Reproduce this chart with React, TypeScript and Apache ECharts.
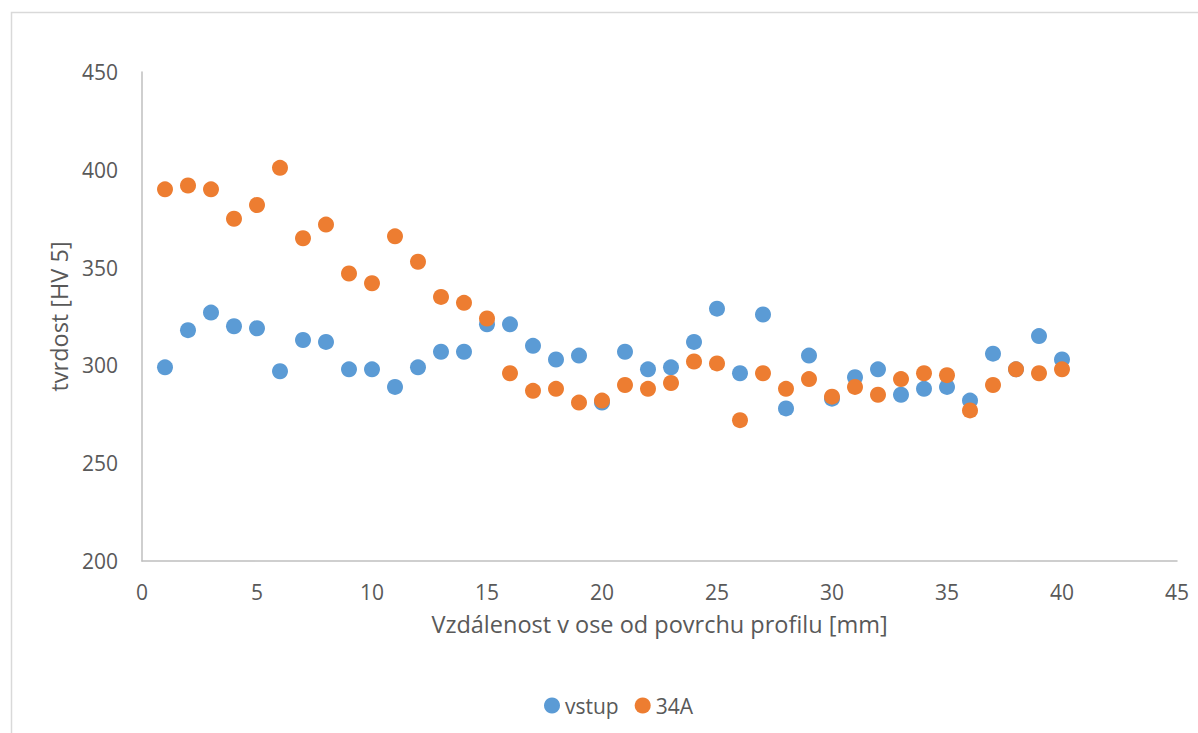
import React, { useEffect, useRef } from "react";
import * as echarts from "echarts";

const distances = [1, 2, 3, 4, 5, 6, 7, 8, 9, 10, 11, 12, 13, 14, 15, 16, 17, 18, 19, 20, 21, 22, 23, 24, 25, 26, 27, 28, 29, 30, 31, 32, 33, 34, 35, 36, 37, 38, 39, 40];
const vstup = [299, 318, 327, 320, 319, 297, 313, 312, 298, 298, 289, 299, 307, 307, 321, 321, 310, 303, 305, 281, 307, 298, 299, 312, 329, 296, 326, 278, 305, 283, 294, 298, 285, 288, 289, 282, 306, 298, 315, 303];
const a34 = [390, 392, 390, 375, 382, 401, 365, 372, 347, 342, 366, 353, 335, 332, 324, 296, 287, 288, 281, 282, 290, 288, 291, 302, 301, 272, 296, 288, 293, 284, 289, 285, 293, 296, 295, 277, 290, 298, 296, 298];

const seriesNames = ["vstup", "34A"];
const colors = ["#5B9BD5", "#ED7D31"];
const xTitle = "Vzdálenost v ose od povrchu profilu [mm]";
const yTitle = "tvrdost [HV 5]";

const FONT = "'Open Sans', sans-serif";
const TEXT = "#595959";

export default function App() {
  const ref = useRef<HTMLDivElement>(null);
  useEffect(() => {
    if (!ref.current) return;
    const chart = echarts.init(ref.current, null, { renderer: "svg" });
    const pair = (ys: number[]) => distances.map((x, i) => [x, ys[i]]);
    chart.setOption({
      animation: false,
      backgroundColor: "#ffffff",
      textStyle: { fontFamily: FONT, color: TEXT },
      graphic: [
        {
          type: "rect",
          left: 9,
          top: 10,
          shape: { x: 0, y: 0, width: 1250, height: 800 },
          style: { fill: "none", stroke: "#D9D9D9", lineWidth: 1.5 },
          silent: true,
          z: -10,
        },
      ],
      grid: { left: 142, right: 21, top: 72, bottom: 172 },
      xAxis: {
        type: "value",
        min: 0,
        max: 45,
        interval: 5,
        name: xTitle,
        nameLocation: "middle",
        nameGap: 51,
        nameTextStyle: { fontFamily: FONT, fontSize: 23.5, color: TEXT },
        axisLine: { show: true, lineStyle: { color: "#BFBFBF", width: 1.5 } },
        axisTick: { show: false },
        splitLine: { show: false },
        axisLabel: { fontFamily: FONT, fontSize: 21, color: TEXT, margin: 20 },
      },
      yAxis: {
        type: "value",
        min: 200,
        max: 450,
        interval: 50,
        name: yTitle,
        nameLocation: "middle",
        nameGap: 70,
        nameRotate: 90,
        nameTextStyle: { fontFamily: FONT, fontSize: 23.5, color: TEXT },
        axisLine: { show: true, lineStyle: { color: "#BFBFBF", width: 1.5 } },
        axisTick: { show: false },
        splitLine: { show: false },
        axisLabel: { fontFamily: FONT, fontSize: 21, color: TEXT, margin: 24 },
      },
      legend: {
        data: seriesNames,
        left: 544,
        top: 695,
        padding: 0,
        icon: "circle",
        itemWidth: 16,
        itemHeight: 16,
        itemGap: 16,
        textStyle: { fontFamily: FONT, fontSize: 21, color: TEXT },
      },
      series: [
        {
          name: seriesNames[0],
          type: "scatter",
          data: pair(vstup),
          symbol: "circle",
          symbolSize: 16,
          itemStyle: { color: colors[0], opacity: 1 },
        },
        {
          name: seriesNames[1],
          type: "scatter",
          data: pair(a34),
          symbol: "circle",
          symbolSize: 16,
          itemStyle: { color: colors[1], opacity: 1 },
        },
      ],
    });
    return () => chart.dispose();
  }, []);
  return (
    <div
      ref={ref}
      style={{ position: "fixed", left: 0, top: 0, width: 1198, height: 733 }}
    />
  );
}
